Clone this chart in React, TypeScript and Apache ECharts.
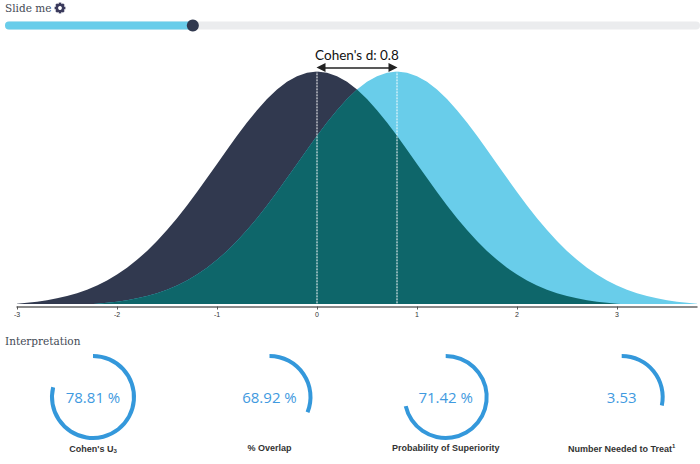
import React, { useEffect, useRef } from "react";
import * as echarts from "echarts";

const xValues = [-3,-2.9,-2.8,-2.7,-2.6,-2.5,-2.4,-2.3,-2.2,-2.1,-2,-1.9,-1.8,-1.7,-1.6,-1.5,-1.4,-1.3,-1.2,-1.1,-1,-0.9,-0.8,-0.7,-0.6,-0.5,-0.4,-0.3,-0.2,-0.1,0,0.1,0.2,0.3,0.4,0.5,0.6,0.7,0.8,0.9,1,1.1,1.2,1.3,1.4,1.5,1.6,1.7,1.8,1.9,2,2.1,2.2,2.3,2.4,2.5,2.6,2.7,2.8,2.9,3,3.1,3.2,3.3,3.4,3.5,3.6,3.7,3.8];
const controlDensity = [.0044,.006,.0079,.0104,.0136,.0175,.0224,.0283,.0355,.044,.054,.0656,.079,.094,.1109,.1295,.1497,.1714,.1942,.2179,.242,.2661,.2897,.3123,.3332,.3521,.3683,.3814,.391,.397,.3989,.397,.391,.3814,.3683,.3521,.3332,.3123,.2897,.2661,.242,.2179,.1942,.1714,.1497,.1295,.1109,.094,.079,.0656,.054,.044,.0355,.0283,.0224,.0175,.0136,.0104,.0079,.006,.0044,.0033,.0024,.0017,.0012,.0009,.0006,.0004,.0003];
const treatmentDensity = [.0003,.0004,.0006,.0009,.0012,.0017,.0024,.0033,.0044,.006,.0079,.0104,.0136,.0175,.0224,.0283,.0355,.044,.054,.0656,.079,.094,.1109,.1295,.1497,.1714,.1942,.2179,.242,.2661,.2897,.3123,.3332,.3521,.3683,.3814,.391,.397,.3989,.397,.391,.3814,.3683,.3521,.3332,.3123,.2897,.2661,.242,.2179,.1942,.1714,.1497,.1295,.1109,.094,.079,.0656,.054,.044,.0355,.0283,.0224,.0175,.0136,.0104,.0079,.006,.0044];
const cohensD = 0.8;
const peakDensity = 0.3989;
const arrowInset = 0.04;
const gaugeTexts = ["78.81 %", "68.92 %", "71.42 %", "3.53"];
const gaugeArcs = [78.81, 31.08, 71.42, 28.33];
const gaugeLabels = ["Cohen's U{sub|3}", "% Overlap", "Probability of Superiority", "Number Needed to Treat{sup|1}"];
const gaugeCentersX = [93, 269.5, 445.7, 621.7];

const toPairs = (ys: number[]) => ys.map((y, i) => [xValues[i], y]);
const overlap = controlDensity.map((v, i) => Math.min(v, treatmentDensity[i]));

const BLUE = "#3498db";
const serif = "'DejaVu Serif'";

export default function App() {
  const ref = useRef<HTMLDivElement>(null);
  useEffect(() => {
    const chart = echarts.init(ref.current!, null, { renderer: "svg" });
    const gearTeeth = [0, 45, 90, 135].map((deg) => ({
      type: "rect",
      x: 60, y: 8,
      originX: 0, originY: 0,
      rotation: (deg * Math.PI) / 180,
      shape: { x: -1.3, y: -5.4, width: 2.6, height: 10.8 },
      style: { fill: "#3a3a5c" },
      silent: true,
    }));
    const area = (name: string, data: number[], color: string) => ({
      name, type: "line", xAxisIndex: 0, yAxisIndex: 0, data: toPairs(data),
      showSymbol: false, symbol: "none", lineStyle: { width: 0 },
      areaStyle: { color, opacity: 1, origin: "start" },
    });
    const guide = (name: string, x: number, top: number) => ({
      name, type: "line", xAxisIndex: 0, yAxisIndex: 0,
      data: [[x, 0], [x, top]], symbol: "none",
      lineStyle: { color: "#ffffff", width: 1, type: [2, 1] }, z: 5,
    });
    chart.setOption({
      animation: false,
      backgroundColor: "#ffffff",
      title: [
        { text: "Slide me", left: 5, top: 2, padding: 0, textStyle: { fontFamily: serif, fontSize: 10.5, fontWeight: "normal", color: "#444a55" } },
        { text: "Interpretation", left: 5, top: 335, padding: 0, textStyle: { fontFamily: serif, fontSize: 10.5, fontWeight: "normal", color: "#444a55" } },
        ...gaugeLabels.map((t, i) => ({
          text: t, left: gaugeCentersX[i], top: 443, padding: 0, textAlign: "center",
          textStyle: {
            fontFamily: "'Liberation Sans'", fontSize: 9, fontWeight: "bold", color: "#333333",
            rich: {
              sub: { fontFamily: "'Liberation Sans'", fontSize: 6, fontWeight: "bold", color: "#333333", padding: [5, 0, 0, 0] },
              sup: { fontFamily: "'Liberation Sans'", fontSize: 6, fontWeight: "bold", color: "#333333", padding: [0, 0, 5, 0] },
            },
          },
        })),
      ],
      graphic: [
        { type: "group", children: [
          ...gearTeeth,
          { type: "ring", shape: { cx: 60, cy: 8, r: 4.4, r0: 1.9 }, style: { fill: "#3a3a5c" }, silent: true },
          { type: "circle", shape: { cx: 60, cy: 8, r: 1.9 }, style: { fill: "#ffffff" }, silent: true, z: 10 },
        ] },
      ],
      grid: [
        { left: 17, width: 680, top: 59.1, height: 244.9 },
        { left: 5, width: 695, top: 21.5, height: 8 },
      ],
      xAxis: [
        {
          type: "value", gridIndex: 0, min: -3, max: 3.8, interval: 1, offset: 2.5,
          splitLine: { show: false },
          axisLine: { show: true, onZero: false, lineStyle: { color: "#666666", width: 1.5 } },
          axisTick: { show: true, length: 3, lineStyle: { color: "#555555", width: 1 } },
          axisLabel: { fontFamily: "'Liberation Sans'", fontSize: 7, color: "#333333", margin: 4, showMaxLabel: false, hideOverlap: false },
        },
        { type: "value", gridIndex: 1, min: 0, max: 2.96, show: false },
      ],
      yAxis: [
        { type: "value", gridIndex: 0, min: 0.004, max: 0.42, show: false },
        { type: "category", gridIndex: 1, data: ["d"], show: false },
      ],
      series: [
        area("Control", controlDensity, "#31394f"),
        area("Treatment", treatmentDensity, "#69cdea"),
        area("Overlap", overlap, "#0e666a"),
        guide("Control mean", 0, peakDensity),
        guide("Treatment mean", cohensD, peakDensity),
        {
          name: "Cohen's d", type: "line", xAxisIndex: 0, yAxisIndex: 0, data: [], symbol: "none",
          markLine: {
            silent: true, symbol: ["triangle", "triangle"], symbolSize: [9, 9],
            lineStyle: { color: "#222222", width: 1.5, type: "solid" },
            label: {
              show: true, position: "middle", formatter: "Cohen's d: 0.8", distance: 6,
              fontFamily: "Lato", fontSize: 13.5, color: "#111111",
            },
            data: [[{ coord: [arrowInset, 0.4057] }, { coord: [cohensD - arrowInset, 0.4057] }]],
          },
        },
        {
          name: "Slider", type: "bar", xAxisIndex: 1, yAxisIndex: 1, data: [cohensD], barWidth: 8,
          showBackground: true,
          backgroundStyle: { color: "#ebecee", borderRadius: 4 },
          itemStyle: { color: "#69cdea", borderRadius: 4 },
        },
        {
          name: "Knob", type: "scatter", xAxisIndex: 1, yAxisIndex: 1, data: [[cohensD, "d"]],
          symbolSize: 12, itemStyle: { color: "#31394f", opacity: 1 }, z: 6,
        },
        ...gaugeArcs.map((v, i) => ({
          name: "Gauge " + i, type: "gauge", center: [gaugeCentersX[i], 397], radius: 43,
          startAngle: 90, endAngle: -270, min: 0, max: 100,
          pointer: { show: false }, anchor: { show: false },
          axisLine: { lineStyle: { width: 4, color: [[1, "rgba(0,0,0,0)"]] } },
          progress: { show: true, width: 4, itemStyle: { color: BLUE } },
          axisTick: { show: false }, splitLine: { show: false }, axisLabel: { show: false },
          title: { show: false },
          detail: {
            show: true, offsetCenter: [0, 0], formatter: () => gaugeTexts[i],
            fontFamily: "'Open Sans'", fontSize: 15, fontWeight: "normal", color: "#3f9ae0",
          },
          data: [{ value: v }],
        })),
      ],
    });
    return () => chart.dispose();
  }, []);
  return <div ref={ref} style={{ position: "absolute", left: 0, top: 0, width: 700, height: 464 }} />;
}
